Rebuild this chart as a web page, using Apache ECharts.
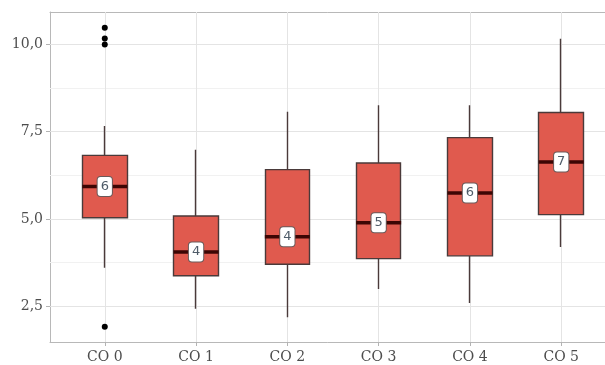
<!DOCTYPE html>
<html>
<head>
<meta charset="utf-8">
<script src="https://cdn.jsdelivr.net/npm/echarts@6/dist/echarts.min.js"></script>
<style>html,body{margin:0;padding:0;background:#fff}#c{width:605px;height:365px}</style>
</head>
<body>
<div id="c"></div>
<script>
const categories = ['CO 0', 'CO 1', 'CO 2', 'CO 3', 'CO 4', 'CO 5'];
const lowWhisker = [3.60, 2.42, 2.18, 2.99, 2.59, 4.19];
const q1 = [5.03, 3.37, 3.70, 3.86, 3.94, 5.12];
const median = [5.93, 4.05, 4.49, 4.89, 5.74, 6.63];
const q3 = [6.82, 5.08, 6.41, 6.60, 7.33, 8.05];
const highWhisker = [7.66, 6.98, 8.07, 8.26, 8.26, 10.16];
const outlierCat = [0, 0, 0, 0];
const outlierValue = [10.48, 10.17, 10.0, 1.91];
const yTicks = [2.5, 5, 7.5, 10];
const yMinor = [3.75, 6.25, 8.75];

const catIdx = categories.map((c, i) => i);
const boxData = catIdx.map(i => [i, q1[i], q3[i], lowWhisker[i], highWhisker[i]]);
const medData = catIdx.map(i => [i, median[i]]);
const outData = outlierCat.map((c, i) => [c, outlierValue[i]]);

const serif = 'DejaVu Serif';
const borderLine = {show: true, onZero: false, lineStyle: {color: '#b8b8b8', width: 1}};
const chart = echarts.init(document.getElementById('c'), null, {renderer: 'canvas'});
chart.setOption({
  animation: false,
  grid: {left: 50, top: 12, width: 566, height: 330, outerBoundsMode: 'none', containLabel: false, show: false},
  xAxis: [{
    type: 'value', min: -0.6, max: 5.6, position: 'bottom',
    axisLine: borderLine,
    splitLine: {show: false},
    axisTick: {show: true, length: 4, lineStyle: {color: '#b3b3b3'}, customValues: catIdx},
    axisLabel: {customValues: catIdx, margin: 8, color: '#4d4d4d', fontFamily: serif, fontSize: 14,
      formatter: v => (Number.isInteger(v) && categories[v]) ? categories[v] : ''}
  }, {
    type: 'value', min: -0.6, max: 5.6, position: 'top',
    axisLine: borderLine, axisTick: {show: false}, axisLabel: {show: false}, splitLine: {show: false}
  }],
  yAxis: {
    type: 'value', min: 1.47, max: 10.93, position: 'left',
    axisLine: borderLine,
    splitLine: {show: false},
    axisTick: {show: true, length: 4, lineStyle: {color: '#b3b3b3'}, customValues: yTicks},
    axisLabel: {customValues: yTicks, margin: 7, color: '#4d4d4d', fontFamily: serif, fontSize: 14,
      formatter: v => v.toFixed(1).replace('.', ',')}
  },
  series: [
    {
      type: 'scatter', z: 3,
      data: outData, symbol: 'circle', symbolSize: 6,
      itemStyle: {color: '#000', opacity: 1},
      emphasis: {disabled: true},
      markLine: {
        z: 1, silent: true, symbol: ['none', 'none'], animation: false,
        label: {show: false},
        data: [
          ...yTicks.map(v => ({yAxis: v, lineStyle: {color: '#e4e4e4', width: 1, type: 'solid'}})),
          ...yMinor.map(v => ({yAxis: v, lineStyle: {color: '#f1f1f1', width: 1, type: 'solid'}})),
          ...catIdx.map(v => ({xAxis: v, lineStyle: {color: '#e4e4e4', width: 1, type: 'solid'}}))
        ]
      }
    },
    {
      type: 'candlestick', z: 2,
      data: boxData, barWidth: 45,
      emphasis: {disabled: true},
      itemStyle: {color: '#E05A4E', color0: '#E05A4E', borderColor: '#4a3a3a', borderColor0: '#4a3a3a', borderWidth: 1.4}
    },
    {
      type: 'scatter', z: 4,
      data: medData, symbol: 'rect', symbolSize: [45, 3.5],
      itemStyle: {color: '#3c0604', opacity: 1},
      emphasis: {disabled: true},
      label: {
        show: true, position: 'inside', opacity: 1,
        formatter: p => String(Math.round(p.value[1])),
        color: '#4e5b68', fontFamily: 'DejaVu Sans', fontSize: 13, lineHeight: 14,
        backgroundColor: '#ffffff', borderColor: '#6a5a5a', borderWidth: 1, borderRadius: 3,
        padding: [3, 3, 2, 3]
      }
    }
  ]
});
</script>
</body>
</html>
